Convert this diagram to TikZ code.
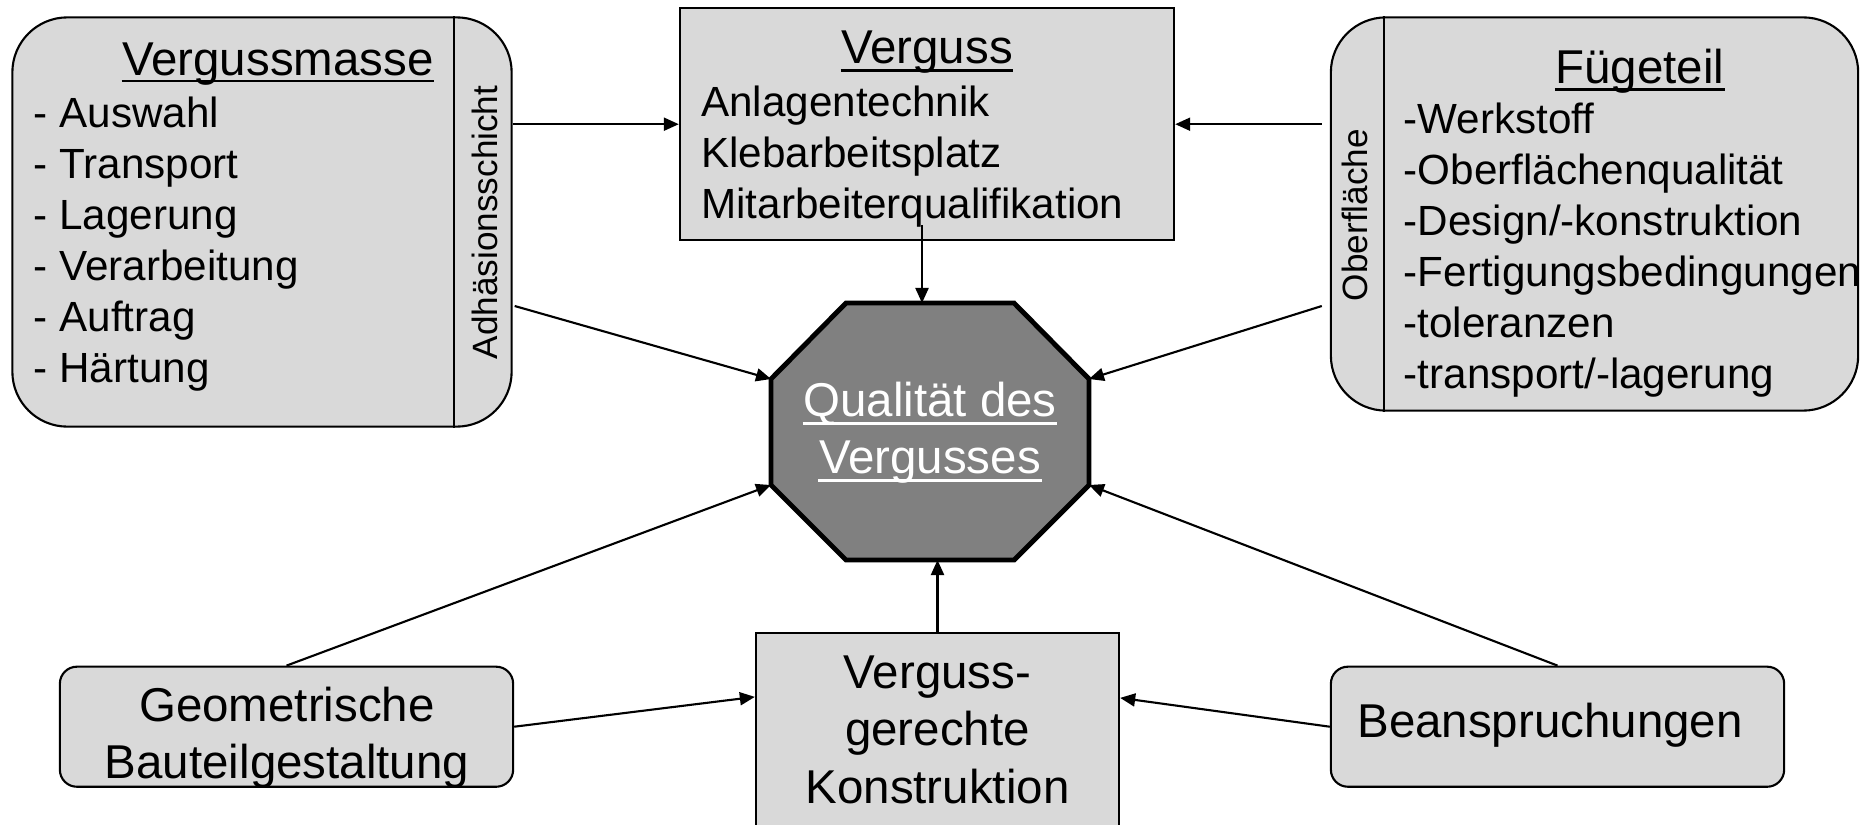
\documentclass[tikz,border=0pt]{standalone}
\usepackage{fontspec}
\setmainfont{Liberation Sans}
\usepackage{tikz}
\usetikzlibrary{arrows.meta,calc}

\begin{document}
\begin{tikzpicture}[x=0.01cm,y=-0.01cm,
		box/.style={draw,line width=0.6pt,fill=black!15,inner sep=0pt},
		rbox/.style={box,rounded corners=0.55cm},
		sbox/.style={box,rounded corners=0.17cm},
		item/.style={inner sep=0pt,anchor=base west,font=\fontsize{12}{14}\selectfont},
		head/.style={inner sep=0pt,anchor=base,font=\fontsize{13.5}{16}\selectfont},
		side/.style={inner sep=0pt,anchor=base,rotate=90,font=\fontsize{10}{12}\selectfont},
		uline/.style={line width=0.7pt},
		arr/.style={line width=0.6pt,-{Triangle[length=0.15cm,width=0.13cm]}}]
			
			\useasboundingbox (0,0) rectangle (1874,824);
			\clip (0,0) rectangle (1874,824);
			
			\node[rbox,minimum width=4.99cm,minimum height=4.09cm] (vm) at (262,222) {};
			\draw[line width=0.6pt] (vm.north -| 454,0) -- (vm.south -| 454,0);
			\node[head] (vmt) at (278,75) {Vergussmasse};
			\draw[uline] ($(vmt.base west)+(0,6)$) -- ($(vmt.base east)+(0,6)$);
			\foreach \t [count=\i] in {- Auswahl,- Transport,- Lagerung,- Verarbeitung,- Auftrag,- Härtung}
				\node[item] (vm\i) at (33,{76.7+51*\i}) {\t};
			\node[side] (adh) at (497,222.5) {Adhäsionsschicht};
			
			\node[box,minimum width=4.94cm,minimum height=2.32cm] (ver) at (927,124.2) {};
			\node[head] (vert) at (927,63.3) {Verguss};
			\draw[uline] ($(vert.base west)+(0,7)$) -- ($(vert.base east)+(0,7)$);
			\foreach \t [count=\i] in {Anlagentechnik,Klebarbeitsplatz,Mitarbeiterqualifikation}
				\node[item] (ver\i) at (700.6,{65.9+50.8*\i}) {\t};
			
			\node[rbox,minimum width=5.27cm,minimum height=3.93cm] (fug) at (1594.5,214) {};
			\draw[line width=0.6pt] (fug.north -| 1384,0) -- (fug.south -| 1384,0);
			\node[head] (fugt) at (1640,83.3) {Fügeteil};
			\draw[uline] ($(fugt.base west)+(0,6)$) -- ($(fugt.base east)+(0,6)$);
			\foreach \t [count=\i] in {-Werkstoff,-Oberflächenqualität,-Design/-konstruktion,-Fertigungsbedingungen,-toleranzen,-transport/-lagerung}
				\node[item] (fug\i) at (1403,{82+51*\i}) {\t};
			\node[side] (obf) at (1367,215) {Oberfläche};
			
			\coordinate (qnw) at (771,379);
			\coordinate (qne) at (1089,379);
			\coordinate (qsw) at (771,485);
			\coordinate (qse) at (1089,485);
			\coordinate (qn) at (922,303);
			\coordinate (qs) at (937.5,560);
			\draw[line width=1.4pt,fill=black!50] (846,303) -- (1014,303) -- (qne) -- (qse) -- (1014,560) -- (846,560) -- (qsw) -- (qnw) -- cycle;
			\node[head,text=white] (q1) at (930,416.7) {Qualität des};
			\node[head,text=white] (q2) at (930,473.3) {Vergusses};
			\draw[uline,white] ($(q1.base west)+(0,7)$) -- ($(q1.base east)+(0,7)$);
			\draw[uline,white] ($(q2.base west)+(0,7)$) -- ($(q2.base east)+(0,7)$);
			
			\node[sbox,minimum width=4.53cm,minimum height=1.2cm] (geo) at (286.5,726.7) {};
			\node[head] (geo1) at (287,721.7) {Geometrische};
			\node[head] (geo2) at (287,778) {Bauteilgestaltung};
			
			\node[box,minimum width=3.63cm,minimum height=2.5cm] (kon) at (937.5,758) {};
			\node[head] (kon1) at (937.5,688) {Verguss-};
			\node[head] (kon2) at (937.5,745) {gerechte};
			\node[head] (kon3) at (937.5,803) {Konstruktion};
			
			\node[sbox,minimum width=4.53cm,minimum height=1.2cm] (bea) at (1557.5,726.7) {};
			\node[head] (bea1) at (1550,737) {Beanspruchungen};
			
			\draw[arr] (vm.east |- ver.west) -- (ver.west);
			\draw[arr] ($(fug.west |- ver.east)+(-8,0)$) -- (ver.east);
			\draw[arr] ($(vm.east)+(2,84)$) -- (qnw);
			\draw[arr] ($(fug.west)+(-8,92)$) -- (qne);
			\draw[arr] ($(ver.south)+(-5,-16)$) -- (qn);
			\draw[arr] (kon.north) -- (qs);
			\draw[arr] (geo.north) -- (qsw);
			\draw[arr] (bea.north) -- (qse);
			\draw[arr] (geo.east) -- ($(kon.north west)+(0,65)$);
			\draw[arr] (bea.west) -- ($(kon.north east)+(0,66)$);
			
		\end{tikzpicture}
\end{document}
